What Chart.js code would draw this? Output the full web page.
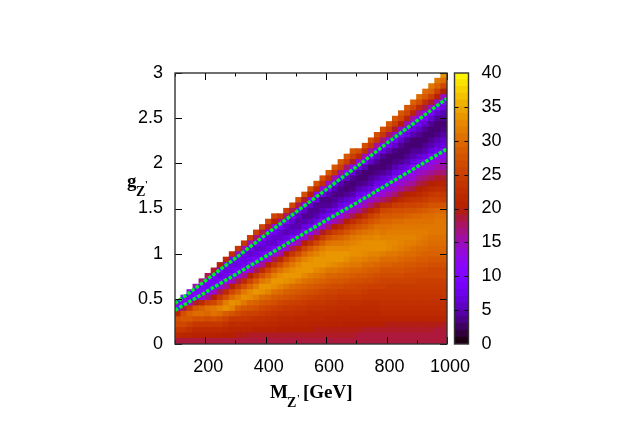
<!DOCTYPE html>
<html><head><meta charset="utf-8">
<style>html,body{margin:0;padding:0;background:#fff}canvas{position:absolute;left:0;top:0}</style>
<script src="https://cdn.jsdelivr.net/npm/chart.js@4/dist/chart.umd.min.js"></script>
</head><body>
<canvas id="main" width="623" height="436"></canvas>
<canvas id="cbar" width="623" height="436"></canvas>
<script>
// Column centres (GeV) of the heat map
const massCentres=[110,130,150,170,190,210,230,250,270,290,310,330,350,370,390,410,430,450,470,490,510,530,550,570,590,610,630,650,670,690,710,730,750,770,790,810,830,850,870,890,910,930,950,970,990];
// Cell height in g_Z'
const rowHeight=0.06;
// Cell values per column, from g=0 upward; the column stops where the data stops
const col110=[18.5,22,24,26,27,21,10,11];
const col130=[18.5,21,24,26,28,27,18,10,12];
const col150=[18.5,21,23,25,28,29,24,13,9,13];
const col170=[18.5,20.5,22,24,27,30,28,19,11,9,15];
const col190=[18.5,20.5,22,24,27,30,29,22,13,10,9,17];
const col210=[18.5,20.5,22,24,26.5,29.5,30.5,25,16,11,8,9,18];
const col230=[18.5,20.5,22,24,27,30.5,31,26,20,14,10,8,9,19];
const col250=[18.5,20,22,24,26.5,30,32,28.5,24,18,13,9,7,10,20];
const col270=[18.5,20,21.5,23,25.5,28.5,33,31.5,27,22,16,12,8,7,10,22];
const col290=[18.5,20,21,22,24,27.5,32,33,30,26,20.5,14.5,10.5,8,7,10,23];
const col310=[18.5,19.5,21,22.5,24,26.5,29,32.5,31.5,28.5,24,18,13,9,7,8,14,24];
const col330=[18.5,19.5,21,22,24,25.5,28,31,33,31,27,22,16,12,8,7,8,15,24];
const col350=[18.5,19,21,22,23.5,25,27.5,29.5,32.5,32.5,29.5,25.5,20,14,10.5,8,6,8,15,25];
const col370=[18.5,19,20.5,22,23,25,27,29,31.5,33.5,31.5,28.5,24,18,13,9,7,6,9,17,25];
const col390=[18.5,19,20.5,22,23,24.5,26,28,30,33,33.5,31,27,22,16,12,8,6,7,10,18,26];
const col410=[18.5,19,20.5,21.5,22.5,24,25.5,27.5,29.5,32,33.5,32,29.5,25.5,20,14,10.5,7,6,7,10,19,26];
const col430=[18.5,19,20.5,21.5,22.5,23.5,25,27,28.5,30.5,33,33.5,31.5,28.5,24,18,13,9,6,6,8,12,20,26];
const col450=[18.5,19,20,21,22,23,24.5,26,28,30,32,33.5,33,30.5,26.5,21.5,15.5,11.5,8,6,6,9,16,24];
const col470=[18.5,19,20,21,22,23,24,25.5,27.5,29,31,33,33.5,32,29.5,25.5,20,14,10.5,7,5,6,9,17,25];
const col490=[18.5,19,20,21,22,23,24,25,27,28.5,30,32.5,33.5,33,31,28.5,24,18,13,9,6,5,6,10,18,26];
const col510=[18.5,19,20,21,21.5,22.5,23.5,25,26.5,28,29.5,31.5,33.5,33.5,32.5,30.5,26.5,21.5,15.5,11.5,7,5,4.5,6,10,18,27];
const col530=[18.5,19,20,21,21.5,22.5,23.5,24.5,26,27.5,29,30.5,32.5,33.5,33.5,32,29.5,25.5,20,14,10.5,7,5,4,6,10,19,27];
const col550=[18.5,19,20,20.5,21.5,22,23,24,25.5,27,28.5,30,31.5,33.5,33.5,33,31,28,23,17.5,12.5,8,5.5,4,4,6,11,20,27];
const col570=[18.5,19,19.5,20.5,21.5,22,23,24,25,26.5,28,29.5,31,32.5,33.5,33.5,32,30,26,21,15.5,11.5,7,5,4,4,7,12,22,27];
const col590=[18.5,19,19.5,20.5,21.5,22,23,24,25,26,27.5,29,30.5,32,33.5,33.5,33,31.5,28.5,24.5,19,14,10.5,7,5,4,3.5,7,13,23,27];
const col610=[18.5,19,19.5,20.5,21,22,22.5,23.5,24.5,25.5,27,28.5,29.5,31,33,33.5,33.5,32.5,30.5,27,22.5,17,12.5,8,6,4,3.5,5,9,14,23,28];
const col630=[18.5,19,19.5,20.5,21,22,22.5,23.5,24.5,25.5,26.5,28,29.5,31,32.5,33.5,33.5,32.5,31,28.5,25,20,15,11.5,7,5,4,3.5,5,10,15,24,28];
const col650=[18.5,19,19.5,20.5,21,21.5,22.5,23,24,25,26.5,28,29,30.5,32,33.5,33.5,32.5,31,29,26,22,17,13,10,7,5,3.5,3.5,5,10,16,25,28];
const col670=[18.5,19,19.5,20,21,21.5,22.5,23,24,25,26,27.5,29,30,31.5,33,33.5,32.5,31.5,30,27.5,24.5,20,16,12.5,8,6,4,3,3.5,6,11,17,25,28];
const col690=[18.5,19,19.5,20,21,21.5,22,23,24,25,26,27,28.5,29.5,31,32,33,33,32,31,29,26,22.5,18,14.5,11.5,7,5,3.5,3,4,7,12,19,25,28];
const col710=[18.5,18.5,19.5,20,21,21.5,22,23,24,25,25.5,27,28,29.5,31,32,33,33,32.5,31.5,30,27.5,24.5,20,16,12.5,10,7,5,3.5,3,4,8,14,22,27];
const col730=[18.5,18.5,19,20,21,21.5,22,22.5,23.5,24.5,25.5,26.5,28,29,30,31.5,32.5,33,33,32,30.5,28.5,26,22.5,18.5,15,12,8,6,4,3,3,5,10,15,23,27];
const col750=[18.5,18.5,19,20,21,21.5,22,22.5,23.5,24,25,26.5,27.5,28.5,30,31,32,33,33,32,31,29.5,27.5,25,21,17,14,11,7,5,4,3,3,6,10,16,24,27];
const col770=[18.5,18.5,19,20,21,21.5,22,22.5,23.5,24,25,26,27,28.5,29.5,31,32,33,33,32.5,31.5,30.5,28.5,26.5,23,19,15.5,12,10,7,5,3.5,3,4,6,10,16,24,27];
const col790=[18.5,18.5,19,20,21,22,22.5,23,23.5,24,25,25.5,26.5,27.5,29,30,31.5,33,33,32,31,30.5,29.5,28,26,22.5,17,14,12,8,6,4,3,3,4,7,11,17,24,27];
const col810=[18.5,18.5,19,19.5,21,22,22.5,23,23.5,24,24.5,25.5,26.5,27.5,29,30,31,32.5,32.5,32,31.5,30.5,29.5,28,26.5,23,18.5,15.5,13,11,7,5,3.5,3,3,5,8,13,18,25,28];
const col830=[18.5,18.5,19,19.5,21,22,22.5,23,23.5,24,24.5,25.5,26.5,27.5,28.5,30,31,32,32.5,32,31.5,31,30,28.5,27,24.5,20.5,17,14.5,12,10,7,5,3.5,3,3.5,6,9,14,19,25,28];
const col850=[18.5,18.5,19,19.5,21,22,22.5,23,23.5,24,24.5,25.5,26.5,27.5,28.5,29.5,30.5,31.5,32,32,31.5,31,30,28.5,27,25,22,19,16,14,12,8,6,4,3,3,4,6,10,14,20,26,28];
const col870=[18.5,18.5,19,19.5,21,22,22.5,23,23.5,24,24.5,25.5,26,27,28,29,30,31,31.5,32,31.5,31,30.5,29,27.5,25.5,23,20.5,17.5,15,13,11,7,5,4,3,3,4,7,10,15,21,26,28];
const col890=[18.5,18.5,19,19.5,21,22,22.5,23,23.5,24,24.5,25.5,26,27,28,29,30,30.5,31.5,32,31.5,31,30.5,29.5,27.5,25.5,23.5,21,18.5,16,14,12,10,7,5,4,3,3,5,7,10,15,21,26,29];
const col910=[18.5,18.5,19,19.5,21,22,22.5,23,23.5,24,24.5,25,26,26.5,27.5,28.5,29.5,30,31,31.5,31.5,31,30.5,29.5,28,26,24,22,20,18,16,14,12,8,6,4,3,3,4,5.5,8,11,16,22,27,30];
const col930=[18.5,18.5,19,19.5,21,22,22.5,23,23.5,24,24.5,25,26,26.5,27.5,28.5,29,30,30.5,31,31.5,31,30.5,30,28.5,26.5,24.5,23,21,19,17,15,13,11,7,5,4,3,3,4,6,9,13,18,23,28,30];
const col950=[18.5,18.5,19,19.5,21,22,22.5,23,23.5,24,24.5,25,26,26,27,28,29,29.5,30,30.5,31,31,30.5,30,29,27.5,25.5,24,22,20,18,16,14,12,10,7,5,4,3,3,4,6,9,14,19,25,29,31];
const col970=[18.5,18.5,18.5,19.5,21,22,22.5,23,23.5,24,24.5,25,26,26,27,28,29,29.5,30,30.5,31,31,31,30.5,29.5,27.5,25.5,24.5,22.5,20.5,19,17,15.5,14,12,8,6,5,3.5,3,3,4,6,10,14,20,25,29,31];
const col990=[18.5,18.5,18.7,19.3,21,22,22.5,23,23.5,24,24.5,25,26,26,27,28,29,29.5,30,30.5,31,31,31,30.5,29.5,27.5,25,24,22,20.5,19,17,15.5,14,12,11,7,6,4.5,3.5,3,4,5,7,10,14,20,26,30,33];
const heatColumns=[col110,col130,col150,col170,col190,col210,col230,col250,col270,col290,col310,col330,col350,col370,col390,col410,col430,col450,col470,col490,col510,col530,col550,col570,col590,col610,col630,col650,col670,col690,col710,col730,col750,col770,col790,col810,col830,col850,col870,col890,col910,col930,col950,col970,col990];
// Contour lines
const lineMass=[100,200,300,400,500,600,700,800,900,1000];
const upperLine=[0.45,0.70,0.95,1.21,1.46,1.71,1.96,2.22,2.47,2.72];
const lowerLine=[0.375,0.57,0.77,0.97,1.17,1.37,1.56,1.76,1.96,2.16];
// Axis ticks
const xTicks=[200,400,600,800,1000];
const xMinorTicks=[100,300,500,700,900];
const yTicks=[0,0.5,1,1.5,2,2.5,3];
const cbTicks=[0,5,10,15,20,25,30,35,40];
// Colour bar levels
const cbLevels=[0.5,1.5,2.5,3.5,4.5,5.5,6.5,7.5,8.5,9.5,10.5,11.5,12.5,13.5,14.5,15.5,16.5,17.5,18.5,19.5,20.5,21.5,22.5,23.5,24.5,25.5,26.5,27.5,28.5,29.5,30.5,31.5,32.5,33.5,34.5,35.5,36.5,37.5,38.5,39.5];
const cbStep=1;

const FONT='"Liberation Sans", Arial, sans-serif';
const SERIF='"Liberation Serif", "Times New Roman", serif';
function palette(v){ // gnuplot rgbformulae 7,5,15
  const x=Math.min(1,Math.max(0,v/40));
  const r=Math.sqrt(x),g=x*x*x,b=Math.max(0,Math.sin(2*Math.PI*x));
  return `rgb(${Math.round(r*255)},${Math.round(g*255)},${Math.round(b*255)})`;
}
const nRows=Math.max(...heatColumns.map(c=>c.length));
const rowIdx=Array.from({length:nRows},(_,i)=>i);
const cellDatasets=rowIdx.map(r=>({
  type:'bar',
  label:'row'+r,
  xAxisID:'x',yAxisID:'y',
  data:massCentres.map(m=>({x:m,y:rowHeight})),
  backgroundColor:heatColumns.map(c=>r<c.length?palette(c[r]):'rgba(0,0,0,0)'),
  borderWidth:0,inflateAmount:0.6,
  barPercentage:1,categoryPercentage:1,order:5
}));
function lineSet(label,vals,color,width,dash,order){
  return {type:'line',label,xAxisID:'x',yAxisID:'y2',
    data:lineMass.map((m,i)=>({x:m,y:vals[i]})),
    borderColor:color,borderWidth:width,borderDash:dash,pointRadius:0,tension:0,fill:false,order};
}
function frame(ctx,a){
  ctx.save();ctx.strokeStyle='#333';ctx.lineWidth=1.4;
  ctx.strokeRect(a.left,a.top,a.right-a.left,a.bottom-a.top);ctx.restore();
}
const mainDecor={id:'mainDecor',afterDatasetsDraw(c){
  const {ctx,chartArea:a,scales:{x,y}}=c;
  ctx.save();ctx.strokeStyle='#000';ctx.lineWidth=1;
  const v=(px,y0,y1)=>{ctx.beginPath();ctx.moveTo(Math.round(px)+.5,y0);ctx.lineTo(Math.round(px)+.5,y1);ctx.stroke();};
  const h=(py,x0,x1)=>{ctx.beginPath();ctx.moveTo(x0,Math.round(py)+.5);ctx.lineTo(x1,Math.round(py)+.5);ctx.stroke();};
  xTicks.forEach(t=>{const p=x.getPixelForValue(t);v(p,a.bottom,a.bottom-7);v(p,a.top,a.top+7);});
  xMinorTicks.forEach(t=>{const p=x.getPixelForValue(t);v(p,a.bottom,a.bottom-3.5);v(p,a.top,a.top+3.5);});
  yTicks.forEach(t=>{const p=y.getPixelForValue(t);h(p,a.left,a.left+7);h(p,a.right,a.right-7);});
  ctx.restore();frame(ctx,a);
  ctx.save();ctx.fillStyle='#000';ctx.textBaseline='alphabetic';ctx.textAlign='left';
  ctx.font='bold 19px '+SERIF;
  ctx.fillText('g',127,187);ctx.fillText('M',270,398);ctx.fillText('[GeV]',303,398);
  ctx.font='bold 14px '+SERIF;
  ctx.fillText('Z',136,196);ctx.fillText('Z',287,407);
  ctx.font='bold 10px '+SERIF;
  ctx.fillText("'",145,188);ctx.fillText("'",297,402);
  ctx.restore();
}};
const plainTick=v=>String(v);
new Chart(document.getElementById('main'),{
  data:{datasets:[...cellDatasets,
    lineSet('upper base',upperLine,'#0050f0',1.5,[],2),
    lineSet('upper',upperLine,'#00ee20',3.5,[3.4,1.8],1),
    lineSet('lower base',lowerLine,'#0050f0',1.5,[],2),
    lineSet('lower',lowerLine,'#00ee20',3.5,[3.4,1.8],1)]},
  options:{responsive:false,animation:false,
    layout:{padding:{left:0,top:73,right:176,bottom:0},autoPadding:false},
    plugins:{legend:{display:false},tooltip:{enabled:false}},
    scales:{
      x:{type:'linear',min:100,max:1000,offset:false,stacked:true,
        grid:{display:false,drawTicks:false},border:{display:false},
        afterBuildTicks(s){s.ticks=xTicks.map(value=>({value}));},
        afterFit(s){s.height=92;},
        ticks:{font:{family:FONT,size:18},color:'#000',padding:12,labelOffset:3,maxRotation:0,autoSkip:false,callback:plainTick}},
      y:{type:'linear',min:0,max:3,stacked:true,
        grid:{display:false,drawTicks:false},border:{display:false},
        afterBuildTicks(s){s.ticks=yTicks.map(value=>({value}));},
        afterFit(s){s.width=175;},
        ticks:{font:{family:FONT,size:18},color:'#000',padding:12,autoSkip:false,callback:plainTick}},
      y2:{type:'linear',min:0,max:3,display:false}
    }},
  plugins:[mainDecor]
});
const cbDecor={id:'cbDecor',afterDatasetsDraw(c){
  const {ctx,chartArea:a,scales:{y}}=c;
  ctx.save();ctx.strokeStyle='#000';ctx.lineWidth=1;
  cbTicks.slice(1,-1).forEach(t=>{const p=Math.round(y.getPixelForValue(t))+.5;
    ctx.beginPath();ctx.moveTo(a.left,p);ctx.lineTo(a.left+4,p);ctx.moveTo(a.right,p);ctx.lineTo(a.right-4,p);ctx.stroke();});
  ctx.restore();frame(ctx,a);
}};
new Chart(document.getElementById('cbar'),{
  type:'bar',
  data:{labels:['colour'],datasets:cbLevels.map(v=>({label:'L'+v,data:[cbStep],backgroundColor:palette(v),borderWidth:0,inflateAmount:0.6,barPercentage:1,categoryPercentage:1}))},
  options:{responsive:false,animation:false,
    layout:{padding:{left:454.5,top:73,right:0,bottom:92},autoPadding:false},
    plugins:{legend:{display:false},tooltip:{enabled:false}},
    scales:{
      x:{display:false,stacked:true,offset:true},
      y:{type:'linear',position:'right',min:0,max:40,stacked:true,
        grid:{display:false,drawTicks:false},border:{display:false},
        afterBuildTicks(s){s.ticks=cbTicks.map(value=>({value}));},
        afterFit(s){s.width=154.5;},
        ticks:{font:{family:FONT,size:18},color:'#000',padding:13,autoSkip:false,callback:plainTick}}
    }}
  ,plugins:[cbDecor]
});
</script>
</body></html>
